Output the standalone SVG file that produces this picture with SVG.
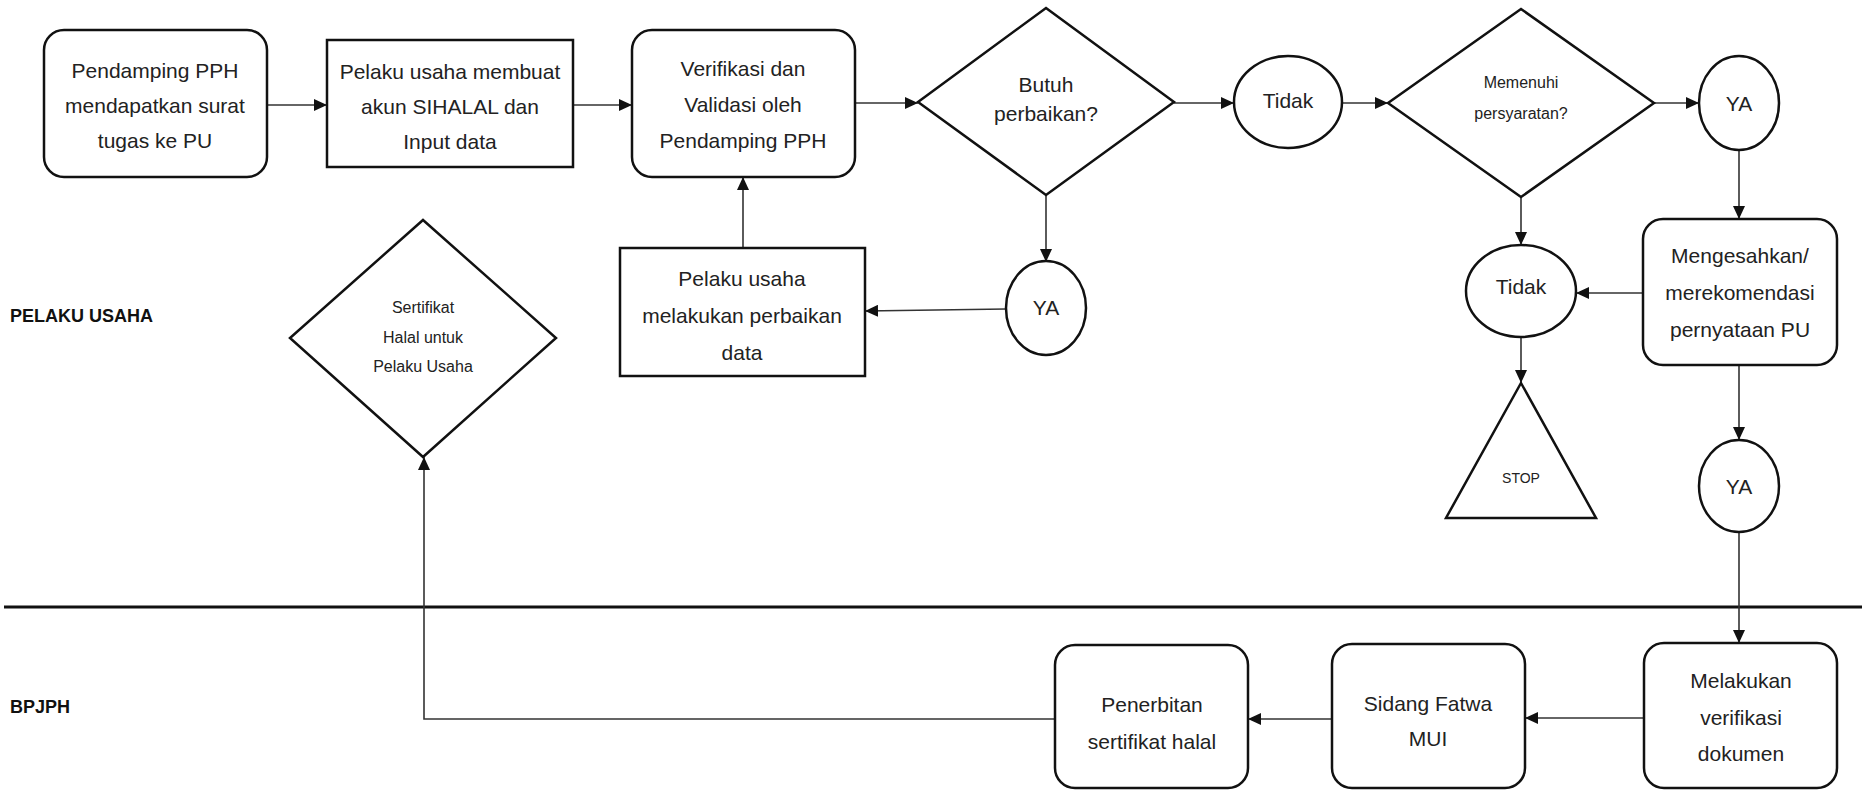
<svg xmlns="http://www.w3.org/2000/svg" width="1862" height="791" viewBox="0 0 1862 791">
<style>
.shape{fill:#fff;stroke:#111;stroke-width:2.5}
.t{font-family:"Liberation Sans",Arial,sans-serif;font-size:21px;fill:#222;text-anchor:middle;dominant-baseline:central}
.s{font-size:16px}
.xs{font-size:14px}
.lane{font-family:"Liberation Sans",Arial,sans-serif;font-size:18px;font-weight:bold;fill:#111;dominant-baseline:central}
.c{fill:none;stroke:#333;stroke-width:1.6}
</style>
<defs>
<marker id="ah" markerWidth="13" markerHeight="12" refX="13" refY="6" orient="auto" markerUnits="userSpaceOnUse">
<path d="M0,0 L13,6 L0,12 z" fill="#111"/>
</marker>
</defs>
<rect width="1862" height="791" fill="#fff"/>
<g id="lanes">
<line x1="4" y1="607" x2="1862" y2="607" stroke="#111" stroke-width="3"/>
<text class="lane" x="10" y="316">PELAKU USAHA</text>
<text class="lane" x="10" y="707">BPJPH</text>
</g>
<g id="connectors">
<line class="c" x1="267" y1="105" x2="327" y2="105" marker-end="url(#ah)"/>
<line class="c" x1="573" y1="105" x2="632" y2="105" marker-end="url(#ah)"/>
<line class="c" x1="855" y1="103" x2="918" y2="103" marker-end="url(#ah)"/>
<line class="c" x1="1174" y1="103" x2="1234" y2="103" marker-end="url(#ah)"/>
<line class="c" x1="1342" y1="103" x2="1388" y2="103" marker-end="url(#ah)"/>
<line class="c" x1="1654" y1="103" x2="1699" y2="103" marker-end="url(#ah)"/>
<line class="c" x1="1739" y1="150" x2="1739" y2="219" marker-end="url(#ah)"/>
<line class="c" x1="1521" y1="197" x2="1521" y2="245" marker-end="url(#ah)"/>
<line class="c" x1="1643" y1="293" x2="1576" y2="293" marker-end="url(#ah)"/>
<line class="c" x1="1521" y1="337" x2="1521" y2="383" marker-end="url(#ah)"/>
<line class="c" x1="1739" y1="365" x2="1739" y2="440" marker-end="url(#ah)"/>
<line class="c" x1="1739" y1="532" x2="1739" y2="643" marker-end="url(#ah)"/>
<line class="c" x1="1644" y1="718" x2="1525" y2="718" marker-end="url(#ah)"/>
<line class="c" x1="1332" y1="719" x2="1248" y2="719" marker-end="url(#ah)"/>
<polyline class="c" points="1055,719 424,719 424,457" marker-end="url(#ah)"/>
<line class="c" x1="1046" y1="195" x2="1046" y2="262" marker-end="url(#ah)"/>
<line class="c" x1="1006" y1="309" x2="865" y2="311" marker-end="url(#ah)"/>
<line class="c" x1="743" y1="248" x2="743" y2="177" marker-end="url(#ah)"/>
</g>
<g id="n1">
<rect class="shape" x="44" y="30" width="223" height="147" rx="20"/>
<text class="t" x="155" y="70">Pendamping PPH</text>
<text class="t" x="155" y="105">mendapatkan surat</text>
<text class="t" x="155" y="140">tugas ke PU</text>
</g>
<g id="n2">
<rect class="shape" x="327" y="40" width="246" height="127"/>
<text class="t" x="450" y="71">Pelaku usaha membuat</text>
<text class="t" x="450" y="106">akun SIHALAL dan</text>
<text class="t" x="450" y="141">Input data</text>
</g>
<g id="n3">
<rect class="shape" x="632" y="30" width="223" height="147" rx="20"/>
<text class="t" x="743" y="68">Verifikasi dan</text>
<text class="t" x="743" y="104">Validasi oleh</text>
<text class="t" x="743" y="140">Pendamping PPH</text>
</g>
<g id="d1">
<polygon class="shape" points="1046,8 1174,102 1046,195 918,102"/>
<text class="t" x="1046" y="84">Butuh</text>
<text class="t" x="1046" y="113">perbaikan?</text>
</g>
<g id="tidak1">
<ellipse class="shape" cx="1288" cy="102" rx="54" ry="46"/>
<text class="t" x="1288" y="100">Tidak</text>
</g>
<g id="d2">
<polygon class="shape" points="1521,9 1654,103 1521,197 1388,103"/>
<text class="t s" x="1521" y="82">Memenuhi</text>
<text class="t s" x="1521" y="113">persyaratan?</text>
</g>
<g id="ya1">
<ellipse class="shape" cx="1739" cy="103" rx="40" ry="47"/>
<text class="t" x="1739" y="103">YA</text>
</g>
<g id="n4">
<rect class="shape" x="1643" y="219" width="194" height="146" rx="20"/>
<text class="t" x="1740" y="255">Mengesahkan/</text>
<text class="t" x="1740" y="292">merekomendasi</text>
<text class="t" x="1740" y="329">pernyataan PU</text>
</g>
<g id="tidak2">
<ellipse class="shape" cx="1521" cy="291" rx="55" ry="46"/>
<text class="t" x="1521" y="286">Tidak</text>
</g>
<g id="stop">
<polygon class="shape" points="1521,383 1596,518 1446,518"/>
<text class="t xs" x="1521" y="478">STOP</text>
</g>
<g id="ya2">
<ellipse class="shape" cx="1739" cy="486" rx="40" ry="46"/>
<text class="t" x="1739" y="486">YA</text>
</g>
<g id="ya3">
<ellipse class="shape" cx="1046" cy="308" rx="40" ry="47"/>
<text class="t" x="1046" y="307">YA</text>
</g>
<g id="n5">
<rect class="shape" x="620" y="248" width="245" height="128"/>
<text class="t" x="742" y="278">Pelaku usaha</text>
<text class="t" x="742" y="315">melakukan perbaikan</text>
<text class="t" x="742" y="352">data</text>
</g>
<g id="d3">
<polygon class="shape" points="423,220 556,338 423,457 290,338"/>
<text class="t s" x="423" y="307">Sertifikat</text>
<text class="t s" x="423" y="337">Halal untuk</text>
<text class="t s" x="423" y="366">Pelaku Usaha</text>
</g>
<g id="n6">
<rect class="shape" x="1644" y="643" width="193" height="145" rx="20"/>
<text class="t" x="1741" y="680">Melakukan</text>
<text class="t" x="1741" y="717">verifikasi</text>
<text class="t" x="1741" y="753">dokumen</text>
</g>
<g id="n7">
<rect class="shape" x="1332" y="644" width="193" height="144" rx="20"/>
<text class="t" x="1428" y="703">Sidang Fatwa</text>
<text class="t" x="1428" y="738">MUI</text>
</g>
<g id="n8">
<rect class="shape" x="1055" y="645" width="193" height="143" rx="20"/>
<text class="t" x="1152" y="704">Penerbitan</text>
<text class="t" x="1152" y="741">sertifikat halal</text>
</g>
</svg>
